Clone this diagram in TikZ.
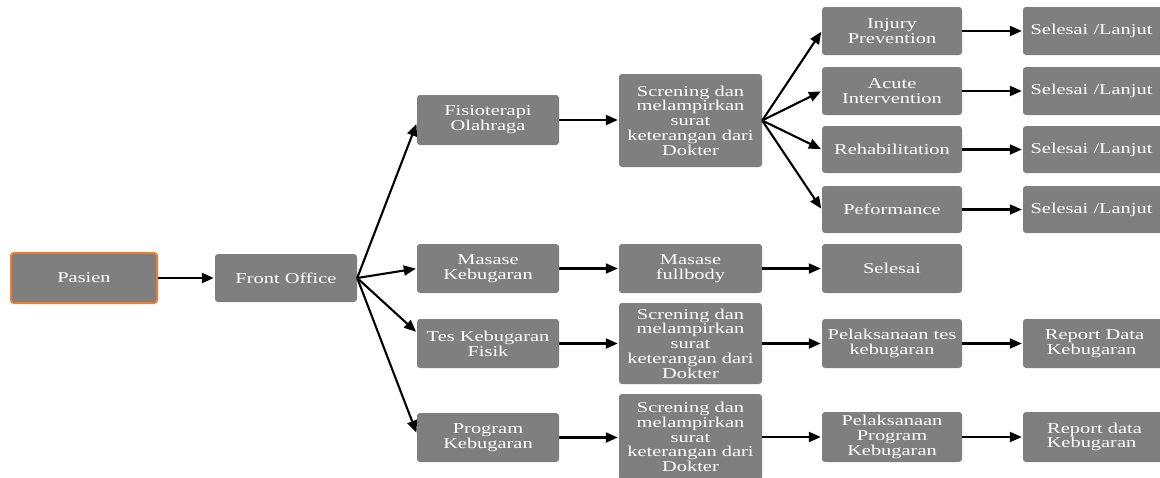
\documentclass[tikz,border=0pt]{standalone}
\usepackage{fontspec}
\setmainfont{Liberation Serif}
\newfontfamily\boxfont[FakeStretch=1.36]{Liberation Serif}
\usetikzlibrary{arrows.meta}
\definecolor{boxgray}{HTML}{7F7F7F}
\definecolor{borange}{HTML}{ED7D31}
\tikzset{
  box/.style={draw=none, fill=boxgray, rounded corners=3pt, inner sep=0pt,
    text=white, align=center, font=\boxfont\fontsize{15}{14.8}\selectfont},
  arr/.style={line width=2.1pt, -{Triangle[length=12pt,width=10pt]}, shorten >=1pt}
}
\newcommand{\bx}[7]{% name, x1, y1, x2, y2, style, text
  \node[box,#6, minimum width={(#4-#2)*1pt}, minimum height={(#5-#3)*1pt}]
    (#1) at ({(#2+#4)/2},{(#3+#5)/2}) {#7};}
\begin{document}
\begin{tikzpicture}[x=1pt,y=-1pt]
\useasboundingbox (0,0) rectangle (1160,477);
\begin{scope}
\clip (0,0) rectangle (1160,477);
\bx{pasien}{11}{253}{157}{303}{draw=borange,line width=2pt}{Pasien}
\bx{front}{215}{254}{357}{302}{}{Front Office}
\bx{fisio}{417}{95}{559}{145}{}{Fisioterapi\\Olahraga}
\bx{scr1}{619}{74}{762}{167}{}{Screning dan\\melampirkan\\surat\\keterangan dari\\Dokter}
\bx{inj}{822}{7}{962}{55}{}{Injury\\Prevention}
\bx{acu}{822}{67}{962}{115}{}{Acute\\Intervention}
\bx{reh}{822}{126}{962}{173}{}{Rehabilitation}
\bx{pef}{822}{186}{962}{233}{}{Peformance}
\bx{sa}{1023}{7}{1166}{55}{}{Selesai /Lanjut\hspace*{6pt}}
\bx{sb}{1023}{67}{1166}{115}{}{Selesai /Lanjut\hspace*{6pt}}
\bx{sc}{1023}{126}{1166}{173}{}{Selesai /Lanjut\hspace*{6pt}}
\bx{sd}{1023}{186}{1166}{233}{}{Selesai /Lanjut\hspace*{6pt}}
\bx{mas}{417}{244}{559}{293}{}{Masase\\Kebugaran}
\bx{masf}{619}{244}{762}{293}{}{Masase\\fullbody}
\bx{sel}{822}{244}{962}{293}{}{Selesai}
\bx{tes}{417}{319}{559}{368}{}{Tes Kebugaran\\Fisik}
\bx{scr2}{619}{303}{762}{384}{}{Screning dan\\melampirkan\\surat\\keterangan dari\\Dokter}
\bx{pel1}{822}{319}{962}{368}{}{Pelaksanaan tes\\kebugaran}
\bx{rep1}{1023}{319}{1166}{368}{}{Report Data\\Kebugaran\hspace*{6pt}}
\bx{prog}{417}{413}{559}{462}{}{Program\\Kebugaran}
\bx{scr3}{619}{394}{762}{480}{}{Screning dan\\melampirkan\\surat\\keterangan dari\\Dokter}
\bx{pel2}{822}{412}{962}{462}{}{Pelaksanaan\\Program\\Kebugaran}
\bx{rep2}{1023}{412}{1166}{462}{}{Report data\\Kebugaran\hspace*{6pt}}
\end{scope}
\draw[arr] (pasien.east) -- (front.west);
\draw[arr] (front.east) -- ([yshift=-3pt]fisio.west);
\draw[arr] (front.east) -- (mas.west);
\draw[arr] (front.east) -- ([yshift=11pt]tes.west);
\draw[arr] (front.east) -- ([yshift=4pt]prog.west);
\draw[arr] (fisio.east) -- (fisio.east -| scr1.west);
\draw[arr] (scr1.east) -- (inj.west);
\draw[arr] (scr1.east) -- (acu.west);
\draw[arr] (scr1.east) -- (reh.west);
\draw[arr] (scr1.east) -- (pef.west);
\draw[arr] (inj.east) -- (sa.west);
\draw[arr] (acu.east) -- (sb.west);
\draw[arr] (reh.east) -- (sc.west);
\draw[arr] (pef.east) -- (sd.west);
\draw[arr] (mas.east) -- (masf.west);
\draw[arr] (masf.east) -- (sel.west);
\draw[arr] (tes.east) -- (scr2.west);
\draw[arr] (scr2.east) -- (pel1.west);
\draw[arr] (pel1.east) -- (rep1.west);
\draw[arr] (prog.east) -- (prog.east -| scr3.west);
\draw[arr] (scr3.east) -- (scr3.east -| pel2.west);
\draw[arr] (pel2.east) -- (rep2.west);
\end{tikzpicture}
\end{document}
